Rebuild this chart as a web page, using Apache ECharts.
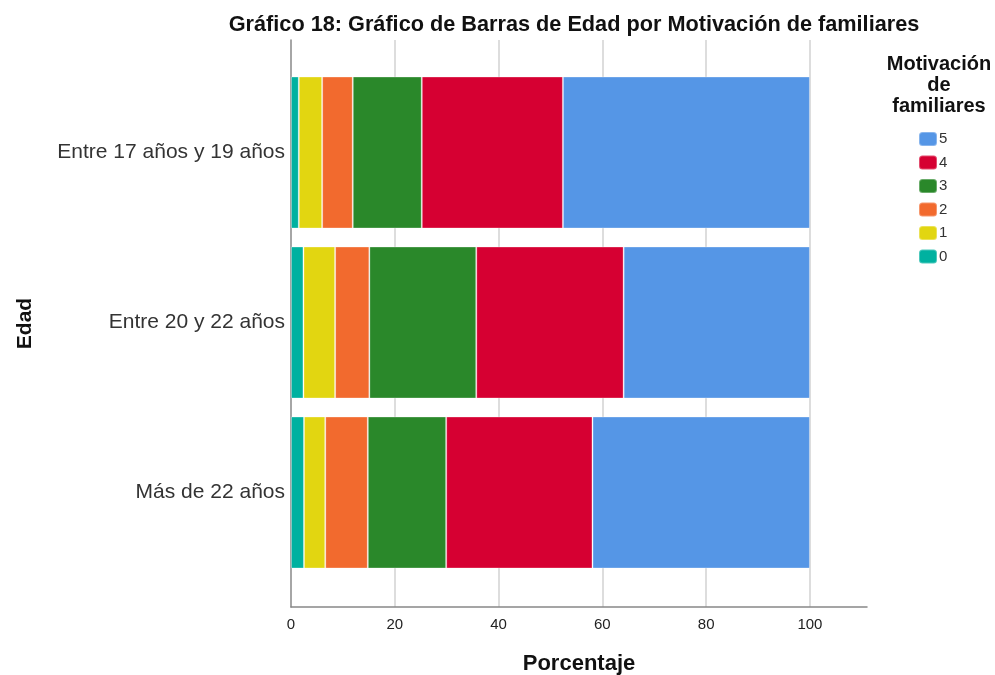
<!DOCTYPE html>
<html lang="es">
<head>
    <meta charset="UTF-8">
    <title>Gráfico 18</title>
    <style>
        html, body { margin: 0; background: #fff; }
        #chart { width: 995px; height: 675px; }
    </style>
</head>
<body>
    <div id="chart"></div>
    <script src="https://cdn.jsdelivr.net/npm/echarts@6/dist/echarts.min.js"></script>
    <script>
        // datos (porcentaje por fila)
        var categorias = ['Entre 17 años y 19 años', 'Entre 20 y 22 años', 'Más de 22 años'];
        var niveles = ['0', '1', '2', '3', '4', '5'];
        var v0 = [1.5, 2.4, 2.5];
        var v1 = [4.5, 6.1, 4.1];
        var v2 = [5.9, 6.6, 8.2];
        var v3 = [13.3, 20.6, 15.1];
        var v4 = [27.2, 28.4, 28.2];
        var v5 = [47.6, 35.9, 41.9];
        var xTicks = [0, 20, 40, 60, 80, 100];

        var colores = ['#00B1A0', '#E2D611', '#F26A2E', '#2A882A', '#D60032', '#5596E6'];
        var valores = [v0, v1, v2, v3, v4, v5];

        var chart = echarts.init(document.getElementById('chart'));
        var fuente = 'Liberation Sans, Arial, sans-serif';

        var series = niveles.map(function (n, i) {
            return {
                name: n,
                type: 'bar',
                stack: 'total',
                xAxisIndex: 0,
                yAxisIndex: 0,
                barWidth: 152,
                itemStyle: {
                    color: colores[i],
                    borderColor: 'rgba(255,255,255,0.3)',
                    borderWidth: 1
                },
                emphasis: { disabled: true },
                data: valores[i]
            };
        });

        chart.setOption({
            animation: false,
            textStyle: { fontFamily: fuente },
            title: {
                text: 'Gráfico 18: Gráfico de Barras de Edad por Motivación de familiares',
                left: 569,
                top: 9,
                textAlign: 'center',
                textStyle: { fontSize: 21.7, fontWeight: 'bold', color: '#111', fontFamily: fuente }
            },
            graphic: [{
                type: 'text',
                left: 878,
                top: 53.5,
                style: {
                    text: 'Motivación\nde\nfamiliares',
                    textAlign: 'center',
                    width: 122,
                    font: 'bold 20px ' + fuente,
                    lineHeight: 21,
                    fill: '#111'
                }
            }],
            legend: {
                data: ['5', '4', '3', '2', '1', '0'],
                orient: 'vertical',
                left: 913,
                top: 126,
                itemWidth: 18,
                itemHeight: 14,
                itemGap: 7.5,
                selectedMode: false,
                textStyle: { fontSize: 15, color: '#333', fontFamily: fuente, padding: [0, 0, 0, -3] }
            },
            grid: [
                { left: 291, right: 128, top: 67.5, bottom: 97.5, outerBoundsMode: 'none', containLabel: false },
                { left: 291, right: 128, top: 40, bottom: 68, outerBoundsMode: 'none', containLabel: false }
            ],
            xAxis: [{
                gridIndex: 0,
                type: 'value',
                min: 0,
                max: 111,
                show: false
            }, {
                gridIndex: 1,
                type: 'value',
                min: 0,
                max: 111,
                interval: 20,
                name: 'Porcentaje',
                nameLocation: 'middle',
                nameGap: 46,
                nameTextStyle: { fontSize: 22, fontWeight: 'bold', color: '#111' },
                axisLine: { show: true, lineStyle: { color: '#888', width: 1.5 } },
                axisTick: { show: false },
                axisLabel: {
                    fontSize: 15,
                    color: '#222',
                    margin: 10.5,
                    showMaxLabel: false,
                    formatter: function (v) { return xTicks.indexOf(v) >= 0 ? v : ''; }
                },
                splitLine: { show: true, showMinLine: false, showMaxLine: false, lineStyle: { color: '#d2d2d2', width: 1.5 } }
            }],
            yAxis: [{
                gridIndex: 0,
                type: 'category',
                inverse: true,
                data: categorias,
                axisLine: { show: false },
                axisTick: { show: false },
                axisLabel: { fontSize: 21, color: '#333', margin: 6 }
            }, {
                gridIndex: 1,
                type: 'value',
                min: 0,
                max: 1,
                name: 'Edad',
                nameLocation: 'middle',
                nameRotate: 90,
                nameGap: 255,
                nameTextStyle: { fontSize: 21, fontWeight: 'bold', color: '#111' },
                axisLine: { show: true, lineStyle: { color: '#888', width: 1.5 } },
                axisTick: { show: false },
                axisLabel: { show: false },
                splitLine: { show: false }
            }],
            series: series
        });
    </script>
</body>
</html>
